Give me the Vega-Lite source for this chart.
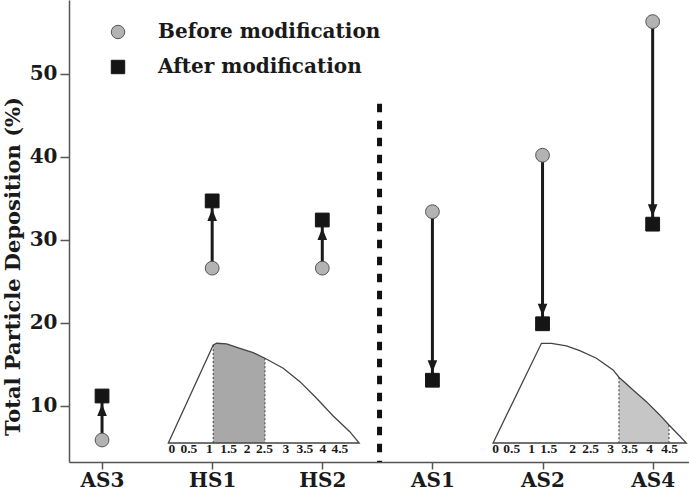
{
  "$schema": "https://vega.github.io/schema/vega-lite/v6.json",
  "width": 620,
  "height": 462,
  "autosize": {"type": "none"},
  "padding": {"left": 69, "top": 0, "right": 0, "bottom": 29},
  "config": {"view": {"stroke": null}, "font": "DejaVu Serif"},
  "datasets": {
    "pts": [
      {"x": 0, "y": 5.9, "kind": "Before modification"},
      {"x": 1, "y": 26.6, "kind": "Before modification"},
      {"x": 2, "y": 26.6, "kind": "Before modification"},
      {"x": 3, "y": 33.4, "kind": "Before modification"},
      {"x": 4, "y": 40.2, "kind": "Before modification"},
      {"x": 5, "y": 56.3, "kind": "Before modification"},
      {"x": 0, "y": 11.2, "kind": "After modification"},
      {"x": 1, "y": 34.7, "kind": "After modification"},
      {"x": 2, "y": 32.4, "kind": "After modification"},
      {"x": 3, "y": 13.1, "kind": "After modification"},
      {"x": 4, "y": 19.9, "kind": "After modification"},
      {"x": 5, "y": 31.9, "kind": "After modification"}
    ],
    "arrows": [
      {"x": 0, "y": 5.9, "y2": 11.2},
      {"x": 1, "y": 26.6, "y2": 34.7},
      {"x": 2, "y": 26.6, "y2": 32.4},
      {"x": 3, "y": 33.4, "y2": 13.1},
      {"x": 4, "y": 40.2, "y2": 19.9},
      {"x": 5, "y": 56.3, "y2": 31.9}
    ],
    "heads": [
      {"x": 0, "y": 11.2, "dir": "up"},
      {"x": 1, "y": 34.7, "dir": "up"},
      {"x": 2, "y": 32.4, "dir": "up"},
      {"x": 3, "y": 13.1, "dir": "down"},
      {"x": 4, "y": 19.9, "dir": "down"},
      {"x": 5, "y": 31.9, "dir": "down"}
    ],
    "curve": [
      {"g": 1, "x": 0.602, "y": 5.54},
      {"g": 1, "x": 1.010, "y": 17.35},
      {"g": 1, "x": 1.041, "y": 17.55},
      {"g": 1, "x": 1.131, "y": 17.47},
      {"g": 1, "x": 1.252, "y": 16.95},
      {"g": 1, "x": 1.373, "y": 16.42},
      {"g": 1, "x": 1.479, "y": 15.75},
      {"g": 1, "x": 1.645, "y": 14.54},
      {"g": 1, "x": 1.797, "y": 12.93},
      {"g": 1, "x": 1.948, "y": 10.93},
      {"g": 1, "x": 2.099, "y": 8.80},
      {"g": 1, "x": 2.250, "y": 6.90},
      {"g": 1, "x": 2.335, "y": 5.54},
      {"g": 2, "x": 3.551, "y": 5.54},
      {"g": 2, "x": 3.990, "y": 17.55},
      {"g": 2, "x": 4.081, "y": 17.55},
      {"g": 2, "x": 4.217, "y": 17.23},
      {"g": 2, "x": 4.338, "y": 16.66},
      {"g": 2, "x": 4.489, "y": 15.75},
      {"g": 2, "x": 4.640, "y": 14.34},
      {"g": 2, "x": 4.694, "y": 13.46},
      {"g": 2, "x": 4.822, "y": 11.93},
      {"g": 2, "x": 4.943, "y": 10.52},
      {"g": 2, "x": 5.064, "y": 8.92},
      {"g": 2, "x": 5.148, "y": 7.71},
      {"g": 2, "x": 5.245, "y": 6.39},
      {"g": 2, "x": 5.306, "y": 5.54}
    ],
    "shade1": [
      {"x": 1.010, "y": 17.35},
      {"x": 1.041, "y": 17.55},
      {"x": 1.131, "y": 17.47},
      {"x": 1.252, "y": 16.95},
      {"x": 1.373, "y": 16.42},
      {"x": 1.479, "y": 15.75}
    ],
    "shade2": [
      {"x": 4.694, "y": 13.46},
      {"x": 4.822, "y": 11.93},
      {"x": 4.943, "y": 10.52},
      {"x": 5.064, "y": 8.92},
      {"x": 5.148, "y": 7.71}
    ],
    "edges": [
      {"x": 1.010, "y": 17.35},
      {"x": 1.479, "y": 15.75},
      {"x": 4.694, "y": 13.46},
      {"x": 5.148, "y": 7.71}
    ],
    "ilab": [
      {"x": 0.635, "y": 4.8, "t": "0"},
      {"x": 0.789, "y": 4.8, "t": "0.5"},
      {"x": 0.975, "y": 4.8, "t": "1"},
      {"x": 1.150, "y": 4.8, "t": "1.5"},
      {"x": 1.318, "y": 4.8, "t": "2"},
      {"x": 1.475, "y": 4.8, "t": "2.5"},
      {"x": 1.670, "y": 4.8, "t": "3"},
      {"x": 1.842, "y": 4.8, "t": "3.5"},
      {"x": 2.005, "y": 4.8, "t": "4"},
      {"x": 2.160, "y": 4.8, "t": "4.5"},
      {"x": 3.575, "y": 4.8, "t": "0"},
      {"x": 3.721, "y": 4.8, "t": "0.5"},
      {"x": 3.902, "y": 4.8, "t": "1"},
      {"x": 4.056, "y": 4.8, "t": "1.5"},
      {"x": 4.274, "y": 4.8, "t": "2"},
      {"x": 4.437, "y": 4.8, "t": "2.5"},
      {"x": 4.619, "y": 4.8, "t": "3"},
      {"x": 4.791, "y": 4.8, "t": "3.5"},
      {"x": 4.973, "y": 4.8, "t": "4"},
      {"x": 5.154, "y": 4.8, "t": "4.5"}
    ],
    "divider": [{"x": 2.52, "y": 46.4, "y2": 3.25}]
  },
  "encoding": {
    "x": {
      "field": "x",
      "type": "quantitative",
      "scale": {"domain": [-0.3, 5.33], "nice": false, "zero": false},
      "axis": {
        "values": [0, 1, 2, 3, 4, 5],
        "labelExpr": "['AS3','HS1','HS2','AS1','AS2','AS4'][datum.value]",
        "title": null,
        "grid": false,
        "tickSize": 7,
        "tickWidth": 1.5,
        "tickColor": "#555555",
        "domainColor": "#555555",
        "domainWidth": 1.5,
        "labelFont": "DejaVu Serif",
        "labelFontWeight": "bold",
        "labelFontSize": 20,
        "labelColor": "#1a1a1a",
        "labelPadding": 1,
        "labelFlush": false
      }
    },
    "y": {
      "field": "y",
      "type": "quantitative",
      "scale": {"domain": [3.25, 58.9], "nice": false, "zero": false},
      "axis": {
        "values": [10, 20, 30, 40, 50],
        "title": "Total Particle Deposition (%)",
        "grid": false,
        "tickSize": 9,
        "tickWidth": 1.5,
        "tickColor": "#555555",
        "domainColor": "#555555",
        "domainWidth": 1.5,
        "labelFont": "DejaVu Serif",
        "labelFontWeight": "bold",
        "labelFontSize": 20,
        "labelColor": "#1a1a1a",
        "labelPadding": 3,
        "labelFlush": false,
        "titleFont": "DejaVu Serif",
        "titleFontWeight": "bold",
        "titleFontSize": 21,
        "titleColor": "#1a1a1a",
        "titleX": -50,
        "titleY": 266,
        "titleAngle": 270,
        "titleAlign": "center",
        "titleBaseline": "alphabetic"
      }
    }
  },
  "layer": [
    {
      "data": {"name": "shade1"},
      "mark": {"type": "area", "fill": "#a8a8a8", "strokeWidth": 0},
      "encoding": {"y2": {"datum": 5.54}}
    },
    {
      "data": {"name": "shade2"},
      "mark": {"type": "area", "fill": "#c6c6c6", "strokeWidth": 0},
      "encoding": {"y2": {"datum": 5.54}}
    },
    {
      "data": {"name": "edges"},
      "mark": {"type": "rule", "color": "#555555", "strokeWidth": 1.2, "strokeDash": [2, 2]},
      "encoding": {"y2": {"datum": 5.54}}
    },
    {
      "data": {"name": "curve"},
      "mark": {"type": "area", "fillOpacity": 0, "stroke": "#444444", "strokeWidth": 1.3},
      "encoding": {
        "y2": {"datum": 5.54},
        "detail": {"field": "g"}
      }
    },
    {
      "data": {"name": "ilab"},
      "mark": {"type": "text", "font": "Liberation Serif", "fontWeight": "bold", "fontSize": 13.5, "fill": "#1a1a1a", "baseline": "middle", "align": "center"},
      "encoding": {
        "text": {"field": "t"}
      }
    },
    {
      "data": {"name": "divider"},
      "mark": {"type": "rule", "color": "#111111", "strokeWidth": 5, "strokeDash": [8.5, 8.5]},
      "encoding": {"y2": {"field": "y2"}}
    },
    {
      "data": {"name": "arrows"},
      "mark": {"type": "rule", "color": "#1a1a1a", "strokeWidth": 3},
      "encoding": {"y2": {"field": "y2"}}
    },
    {
      "data": {"name": "heads"},
      "transform": [{"filter": "datum.dir == 'up'"}],
      "mark": {"type": "point", "shape": "M0,-1L-0.8,1L0.8,1Z", "filled": true, "color": "#1a1a1a", "size": 144, "opacity": 1, "yOffset": 14}
    },
    {
      "data": {"name": "heads"},
      "transform": [{"filter": "datum.dir == 'down'"}],
      "mark": {"type": "point", "shape": "M0,1L-0.8,-1L0.8,-1Z", "filled": true, "color": "#1a1a1a", "size": 144, "opacity": 1, "yOffset": -14}
    },
    {
      "data": {"name": "pts"},
      "mark": {"type": "point", "filled": true, "size": 190, "opacity": 1, "strokeWidth": 1},
      "encoding": {
        "shape": {
          "field": "kind", "type": "nominal",
          "scale": {"domain": ["Before modification", "After modification"], "range": ["circle", "square"]},
          "legend": {
            "title": null, "orient": "none", "legendX": 39, "legendY": 22, "padding": 0,
            "labelFont": "DejaVu Serif", "labelFontWeight": "bold", "labelFontSize": 20, "labelColor": "#1a1a1a", "labelLimit": 400,
            "symbolSize": 180, "symbolStrokeWidth": 1, "labelOffset": 30, "rowPadding": 15
          }
        },
        "fill": {
          "field": "kind", "type": "nominal",
          "scale": {"domain": ["Before modification", "After modification"], "range": ["#b3b3b3", "#151515"]},
          "legend": {
            "title": null, "orient": "none", "legendX": 39, "legendY": 22, "padding": 0,
            "labelFont": "DejaVu Serif", "labelFontWeight": "bold", "labelFontSize": 20, "labelColor": "#1a1a1a", "labelLimit": 400,
            "symbolSize": 180, "symbolStrokeWidth": 1, "labelOffset": 30, "rowPadding": 15
          }
        },
        "stroke": {
          "field": "kind", "type": "nominal",
          "scale": {"domain": ["Before modification", "After modification"], "range": ["#555555", "#151515"]},
          "legend": {
            "title": null, "orient": "none", "legendX": 39, "legendY": 22, "padding": 0,
            "labelFont": "DejaVu Serif", "labelFontWeight": "bold", "labelFontSize": 20, "labelColor": "#1a1a1a", "labelLimit": 400,
            "symbolSize": 180, "symbolStrokeWidth": 1, "labelOffset": 30, "rowPadding": 15
          }
        }
      }
    }
  ]
}
